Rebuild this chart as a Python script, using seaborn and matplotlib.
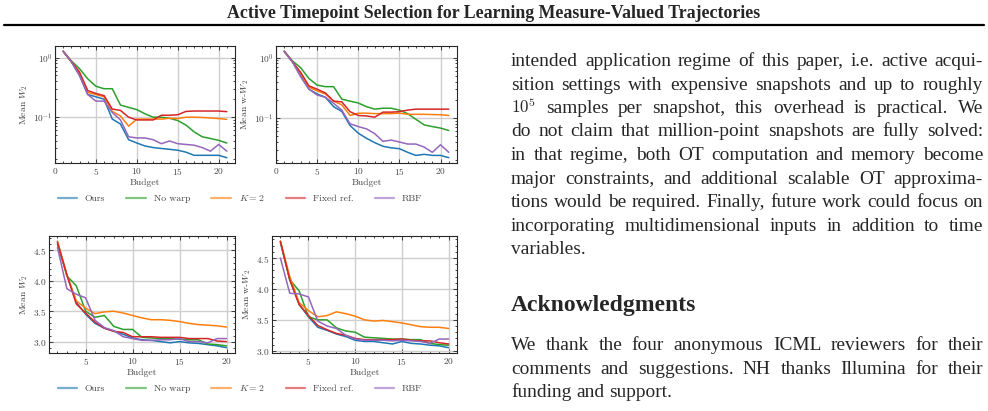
import matplotlib
matplotlib.use("Agg")
import matplotlib.pyplot as plt
import numpy as np
import pandas as pd
import seaborn as sns
from matplotlib.lines import Line2D
from matplotlib.ticker import AutoMinorLocator, MultipleLocator

# ---- data ----
methods = ["Ours", "No warp", "$K=2$", "Fixed ref.", "RBF"]
colors = ["#1f77b4", "#2ca02c", "#ff7f0e", "#d62728", "#9467bd"]

budget_top = list(range(1, 22))
budget_bottom = list(range(2, 21))

# top left: Mean W2 (log)
w2_ours = [1.27, 0.85, 0.50, 0.24, 0.22, 0.20, 0.093, 0.077, 0.042, 0.037, 0.033,
           0.031, 0.030, 0.029, 0.028, 0.026, 0.023, 0.023, 0.023, 0.023, 0.021]
w2_nowarp = [1.27, 0.88, 0.65, 0.44, 0.33, 0.30, 0.30, 0.16, 0.146, 0.134, 0.114,
             0.10, 0.10, 0.096, 0.088, 0.074, 0.057, 0.047, 0.044, 0.041, 0.037]
w2_k2 = [1.27, 0.85, 0.55, 0.26, 0.24, 0.22, 0.125, 0.105, 0.071, 0.093, 0.093,
         0.093, 0.093, 0.096, 0.095, 0.10, 0.10, 0.099, 0.097, 0.095, 0.092]
w2_fixed = [1.27, 0.85, 0.57, 0.28, 0.25, 0.23, 0.137, 0.13, 0.10, 0.09, 0.09,
            0.09, 0.108, 0.108, 0.11, 0.125, 0.127, 0.127, 0.127, 0.127, 0.124]
w2_rbf = [1.27, 0.85, 0.50, 0.24, 0.186, 0.186, 0.12, 0.09, 0.047, 0.045, 0.045,
          0.042, 0.036, 0.040, 0.036, 0.035, 0.034, 0.031, 0.027, 0.035, 0.027]

# top right: Mean w-W2 (log)
ww2_ours = [1.27, 0.85, 0.50, 0.30, 0.25, 0.22, 0.154, 0.128, 0.075, 0.056, 0.046,
            0.039, 0.034, 0.032, 0.031, 0.027, 0.024, 0.025, 0.024, 0.024, 0.022]
ww2_nowarp = [1.27, 0.88, 0.68, 0.45, 0.35, 0.33, 0.33, 0.205, 0.19, 0.177, 0.154,
              0.14, 0.145, 0.145, 0.135, 0.118, 0.095, 0.077, 0.072, 0.068, 0.062]
ww2_k2 = [1.27, 0.85, 0.55, 0.325, 0.28, 0.25, 0.19, 0.165, 0.11, 0.12, 0.12,
          0.118, 0.118, 0.118, 0.12, 0.115, 0.115, 0.115, 0.114, 0.113, 0.11]
ww2_fixed = [1.27, 0.85, 0.57, 0.34, 0.30, 0.26, 0.19, 0.185, 0.127, 0.11, 0.108,
             0.103, 0.125, 0.125, 0.127, 0.135, 0.14, 0.14, 0.14, 0.14, 0.14]
ww2_rbf = [1.27, 0.85, 0.48, 0.30, 0.24, 0.22, 0.175, 0.135, 0.08, 0.072, 0.066,
           0.055, 0.041, 0.043, 0.040, 0.037, 0.037, 0.033, 0.027, 0.036, 0.027]

# bottom left: Mean W2
b_w2_ours = [4.60, 4.10, 3.65, 3.45, 3.30, 3.22, 3.17, 3.12, 3.06, 3.03, 3.02,
             3.00, 2.98, 3.00, 2.98, 2.97, 2.95, 2.93, 2.90]
b_w2_nowarp = [4.65, 4.08, 3.92, 3.50, 3.40, 3.43, 3.25, 3.20, 3.20, 3.07, 3.06,
               3.05, 3.05, 3.04, 3.03, 3.03, 2.96, 2.95, 2.93]
b_w2_k2 = [4.65, 4.10, 3.67, 3.55, 3.46, 3.49, 3.50, 3.47, 3.43, 3.39, 3.36,
           3.36, 3.35, 3.33, 3.30, 3.28, 3.27, 3.26, 3.24]
b_w2_fixed = [4.63, 4.10, 3.62, 3.47, 3.32, 3.22, 3.17, 3.15, 3.08, 3.08, 3.08,
              3.07, 3.07, 3.07, 3.05, 3.05, 3.05, 3.01, 3.00]
b_w2_rbf = [4.55, 3.87, 3.78, 3.72, 3.35, 3.23, 3.18, 3.08, 3.05, 3.02, 3.02,
            3.03, 3.03, 3.05, 3.00, 3.00, 2.98, 3.05, 3.05]

# bottom right: Mean w-W2
b_ww2_ours = [4.75, 4.15, 3.75, 3.55, 3.38, 3.33, 3.27, 3.23, 3.17, 3.15, 3.15,
              3.13, 3.11, 3.15, 3.12, 3.11, 3.09, 3.08, 3.05]
b_ww2_nowarp = [4.77, 4.15, 3.97, 3.55, 3.50, 3.50, 3.37, 3.32, 3.30, 3.22, 3.21,
                3.20, 3.19, 3.19, 3.18, 3.18, 3.12, 3.10, 3.09]
b_ww2_k2 = [4.77, 4.20, 3.78, 3.65, 3.55, 3.57, 3.63, 3.60, 3.56, 3.50, 3.48,
            3.49, 3.47, 3.45, 3.42, 3.39, 3.38, 3.38, 3.36]
b_ww2_fixed = [4.77, 4.15, 3.75, 3.57, 3.41, 3.34, 3.28, 3.25, 3.20, 3.18, 3.18,
               3.18, 3.18, 3.19, 3.17, 3.16, 3.16, 3.13, 3.11]
b_ww2_rbf = [4.50, 3.93, 3.92, 3.87, 3.48, 3.40, 3.36, 3.25, 3.19, 3.17, 3.17,
             3.17, 3.16, 3.17, 3.16, 3.15, 3.12, 3.19, 3.19]

title = "Active Timepoint Selection for Learning Measure-Valued Trajectories"
para_lines = [
    "intended application regime of this paper, i.e. active acqui-",
    "sition settings with expensive snapshots and up to roughly",
    "$10^5$ samples per snapshot, this overhead is practical.  We",
    "do not claim that million-point snapshots are fully solved:",
    "in that regime, both OT computation and memory become",
    "major constraints, and additional scalable OT approxima-",
    "tions would be required. Finally, future work could focus on",
    "incorporating multidimensional inputs in addition to time",
    "variables.",
]
ack_title = "Acknowledgments"
ack_lines = [
    "We thank the four anonymous ICML reviewers for their",
    "comments and suggestions.  NH thanks Illumina for their",
    "funding and support.",
]

W, H = 988, 411
sns.set_style("ticks")
plt.rcParams["font.family"] = ["cmr10"]
plt.rcParams["mathtext.fontset"] = "cm"
plt.rcParams["axes.unicode_minus"] = False
plt.rcParams["axes.formatter.use_mathtext"] = True

fig = plt.figure(figsize=(W / 100, H / 100), dpi=100)
PAPER = ["Liberation Serif", "DejaVu Serif"]
TXT = "0.28"


def px_rect(left, top, right, bottom):
    return [left / W, 1 - bottom / H, (right - left) / W, (bottom - top) / H]


def make_df(x, series):
    rows = []
    for name, vals in zip(methods, series):
        for b, v in zip(x, vals):
            rows.append({"Budget": b, "value": v, "method": name})
    return pd.DataFrame(rows)


def panel(rect, x, series, ylabel, log):
    ax = fig.add_axes(rect)
    df = make_df(x, series)
    sns.lineplot(data=df, x="Budget", y="value", hue="method", hue_order=methods,
                 palette=colors, linewidth=1.1, legend=False, ax=ax)
    if log:
        ax.set_yscale("log")
    ax.set_xlabel("Budget", fontsize=7, color=TXT, labelpad=1)
    ax.set_ylabel(ylabel, fontsize=7, color=TXT, labelpad=2)
    ax.xaxis.set_major_locator(MultipleLocator(5))
    ax.xaxis.set_minor_locator(AutoMinorLocator(5))
    if not log:
        ax.yaxis.set_major_locator(MultipleLocator(0.5))
        ax.yaxis.set_minor_locator(AutoMinorLocator(5))
    ax.grid(True, which="major", color="#cfcfcf", linewidth=1.0)
    ax.set_axisbelow(True)
    ax.tick_params(which="both", direction="in", top=True, right=True,
                   labelsize=6.7, labelcolor=TXT, width=0.6, pad=2)
    ax.tick_params(which="major", length=3)
    ax.tick_params(which="minor", length=1.5)
    for s in ax.spines.values():
        s.set_linewidth(0.8)
    return ax


panel(px_rect(55, 46, 235, 163), budget_top,
      [w2_ours, w2_nowarp, w2_k2, w2_fixed, w2_rbf], "Mean $W_2$", True)
panel(px_rect(276, 46, 457, 163), budget_top,
      [ww2_ours, ww2_nowarp, ww2_k2, ww2_fixed, ww2_rbf], "Mean w-$W_2$", True)
panel(px_rect(49, 236, 235, 353), budget_bottom,
      [b_w2_ours, b_w2_nowarp, b_w2_k2, b_w2_fixed, b_w2_rbf], "Mean $W_2$", False)
panel(px_rect(272, 236, 457, 353), budget_bottom,
      [b_ww2_ours, b_ww2_nowarp, b_ww2_k2, b_ww2_fixed, b_ww2_rbf], "Mean w-$W_2$", False)

handles = [Line2D([], [], color=c, lw=1.6, alpha=0.6) for c in colors]
for ly in (198, 388):
    leg = fig.legend(handles, methods, loc="center", bbox_to_anchor=(240 / W, 1 - ly / H),
                     ncol=5, frameon=False, fontsize=7, handlelength=2.0,
                     handletextpad=0.8, columnspacing=2.2)
    for t in leg.get_texts():
        t.set_color(TXT)

# ---- page text ----
renderer = fig.canvas.get_renderer()


def fit_text(x, y, s, width, ha, **kw):
    t = fig.text(x / W, 1 - y / H, s, ha=ha, va="baseline", **kw)
    w = t.get_window_extent(renderer).width
    t.set_fontsize(t.get_fontsize() * width / w)
    return t


fit_text(494, 18, title, 530, "center", family=PAPER, weight="bold", fontsize=12)
fig.add_artist(Line2D([4 / W, 984 / W], [1 - 25 / H, 1 - 25 / H], color="black", lw=1.6))
fit_text(511, 311, ack_title, 186, "left", family=PAPER, weight="bold", fontsize=17)


def body_size(lines, width, s0=10.0):
    # largest size at which every full line still fits the column
    scale = []
    for line in lines[:-1]:
        t = fig.text(0, 0, line, fontsize=s0, family=PAPER)
        scale.append(width / t.get_window_extent(renderer).width)
        t.remove()
    return s0 * min(scale) * 0.985


def justified(lines, x0, x1, y0, dy, size):
    for i, line in enumerate(lines):
        words = line.split()
        y = 1 - (y0 + i * dy) / H
        texts = []
        for w in words:
            fs = size * 0.88 if w.startswith("$") else size
            texts.append(fig.text(0, y, w, fontsize=fs, family=PAPER, va="baseline"))
        widths = [t.get_window_extent(renderer).width for t in texts]
        if i == len(lines) - 1 or len(words) == 1:
            gap = size * 0.25 * 100 / 72
        else:
            gap = (x1 - x0 - sum(widths)) / (len(words) - 1)
        x = x0
        for t, w in zip(texts, widths):
            t.set_x(x / W)
            x += w + gap


size = min(body_size(para_lines, 472), body_size(ack_lines, 472))
justified(para_lines, 511, 983, 66, 23.5, size)
justified(ack_lines, 511, 983, 350, 23.5, size)

fig.savefig("out.png", dpi=100)
